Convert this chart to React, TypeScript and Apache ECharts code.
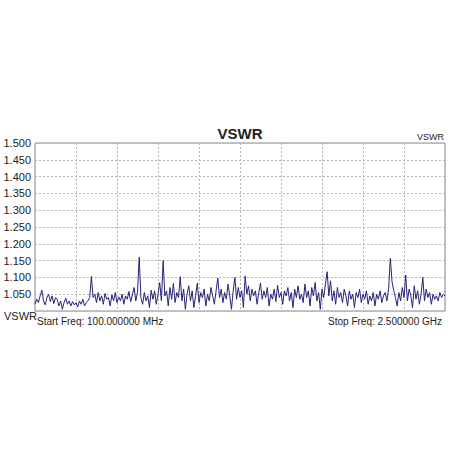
import React, { useEffect, useRef } from "react";
import * as echarts from "echarts";

const startFreqLabel = "Start Freq: 100.000000 MHz";
const stopFreqLabel = "Stop Freq: 2.500000 GHz";
const titleText = "VSWR";
const yTicks = [1.0, 1.05, 1.1, 1.15, 1.2, 1.25, 1.3, 1.35, 1.4, 1.45, 1.5];

// VSWR readings, one per sweep step (241 steps, 100 MHz .. 2500 MHz)
const vswr = [
  1.020, 1.035, 1.025, 1.045, 1.062, 1.030, 1.018, 1.040, 1.050, 1.028,
  1.045, 1.022, 1.040, 1.035, 1.015, 1.030, 1.005, 1.025, 1.038, 1.020,
  1.030, 1.015, 1.028, 1.018, 1.025, 1.012, 1.030, 1.020, 1.035, 1.015,
  1.025, 1.030, 1.040, 1.103, 1.040, 1.050, 1.025, 1.055, 1.030, 1.045,
  1.020, 1.052, 1.035, 1.040, 1.015, 1.048, 1.030, 1.055, 1.025, 1.042,
  1.030, 1.050, 1.020, 1.045, 1.035, 1.058, 1.028, 1.048, 1.070, 1.030,
  1.055, 1.160, 1.040, 1.020, 1.055, 1.030, 1.045, 1.010, 1.062, 1.035,
  1.060, 1.020, 1.050, 1.085, 1.030, 1.150, 1.045, 1.060, 1.015, 1.070,
  1.035, 1.082, 1.025, 1.055, 1.040, 1.102, 1.030, 1.065, 1.005, 1.050,
  1.075, 1.030, 1.060, 1.010, 1.045, 1.083, 1.025, 1.055, 1.040, 1.065,
  1.015, 1.050, 1.030, 1.070, 1.045, 1.020, 1.060, 1.098, 1.040, 1.065,
  1.025, 1.055, 1.035, 1.080, 1.045, 1.005, 1.060, 1.100, 1.035, 1.070,
  1.040, 1.060, 1.010, 1.104, 1.050, 1.075, 1.030, 1.065, 1.045, 1.060,
  1.020, 1.055, 1.083, 1.035, 1.060, 1.040, 1.070, 1.015, 1.050, 1.035,
  1.065, 1.028, 1.077, 1.040, 1.055, 1.020, 1.060, 1.045, 1.070, 1.030,
  1.055, 1.010, 1.065, 1.040, 1.075, 1.035, 1.050, 1.025, 1.080, 1.040,
  1.060, 1.015, 1.070, 1.045, 1.085, 1.030, 1.055, 1.005, 1.065, 1.040,
  1.080, 1.117, 1.045, 1.090, 1.030, 1.060, 1.020, 1.070, 1.040, 1.055,
  1.025, 1.065, 1.045, 1.015, 1.060, 1.035, 1.050, 1.010, 1.055, 1.040,
  1.065, 1.025, 1.050, 1.035, 1.060, 1.020, 1.045, 1.030, 1.055, 1.015,
  1.050, 1.035, 1.060, 1.025, 1.045, 1.055, 1.030, 1.065, 1.157, 1.087,
  1.060, 1.040, 1.015, 1.055, 1.030, 1.070, 1.040, 1.107, 1.030, 1.065,
  1.045, 1.010, 1.075, 1.035, 1.060, 1.020, 1.050, 1.100, 1.030, 1.065,
  1.040, 1.055, 1.020, 1.050, 1.035, 1.045, 1.030, 1.055, 1.040, 1.050,
  1.045,
];

const FONT = "Liberation Sans, Arial, sans-serif";

export default function App() {
  const ref = useRef<HTMLDivElement>(null);
  useEffect(() => {
    if (!ref.current) return;
    const chart = echarts.init(ref.current, undefined, { renderer: "svg" });
    const steps = vswr.length - 1;
    chart.setOption({
      animation: false,
      backgroundColor: "#ffffff",
      textStyle: { fontFamily: FONT },
      grid: {
        left: 35,
        right: 7,
        top: 143,
        bottom: 141,
        show: true,
        borderColor: "#8a8a8a",
        borderWidth: 1,
        backgroundColor: "#ffffff",
      },
      xAxis: {
        type: "value",
        min: 0,
        max: steps,
        interval: steps / 10,
        axisLine: { show: false },
        axisTick: { show: false },
        axisLabel: { show: false },
        splitLine: { show: true, lineStyle: { color: "#b5b5b5", type: [2, 2], width: 1 } },
      },
      yAxis: {
        type: "value",
        min: yTicks[0],
        max: yTicks[yTicks.length - 1],
        interval: 0.05,
        axisLine: { show: false },
        axisTick: { show: false },
        axisLabel: {
          fontSize: 11,
          color: "#222",
          margin: 4,
          fontFamily: FONT,
          formatter: (v: number) => (v <= yTicks[0] + 1e-9 ? "" : v.toFixed(3)),
        },
        splitLine: { show: true, lineStyle: { color: "#b5b5b5", type: [2, 2], width: 1 } },
      },
      series: [
        {
          type: "line",
          data: vswr.map((v, i) => [i, v]),
          symbol: "none",
          lineStyle: { color: "#24247a", width: 1 },
          clip: true,
        },
      ],
      graphic: [
        {
          type: "text",
          x: 240,
          y: 133,
          style: {
            text: titleText,
            font: `bold 15px ${FONT}`,
            fill: "#222",
            align: "center",
            verticalAlign: "middle",
          },
        },
        {
          type: "text",
          x: 444,
          y: 137,
          style: {
            text: "VSWR",
            font: `9px ${FONT}`,
            fill: "#222",
            align: "right",
            verticalAlign: "middle",
          },
        },
        {
          type: "text",
          x: 4,
          y: 316,
          style: {
            text: "VSWR",
            font: `11px ${FONT}`,
            fill: "#222",
            align: "left",
            verticalAlign: "middle",
          },
        },
        {
          type: "text",
          x: 37,
          y: 321,
          style: {
            text: startFreqLabel,
            font: `10px ${FONT}`,
            fill: "#222",
            align: "left",
            verticalAlign: "middle",
          },
        },
        {
          type: "text",
          x: 442,
          y: 321,
          style: {
            text: stopFreqLabel,
            font: `10px ${FONT}`,
            fill: "#222",
            align: "right",
            verticalAlign: "middle",
          },
        },
      ],
    });
    return () => chart.dispose();
  }, []);
  return (
    <div
      ref={ref}
      style={{ position: "fixed", left: 0, top: 0, width: 452, height: 452 }}
    />
  );
}
